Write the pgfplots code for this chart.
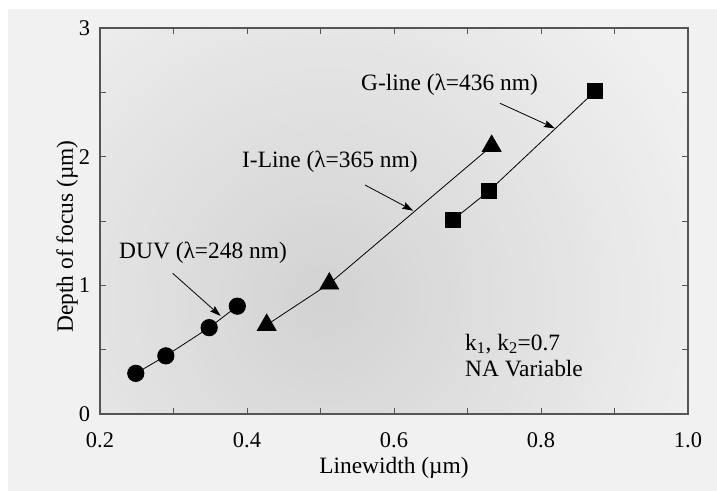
\documentclass[border=0pt]{standalone}
\usepackage{fontspec}
\setmainfont{Liberation Serif}
\usepackage{pgfplots}
\pgfplotsset{compat=1.18}
\usetikzlibrary{arrows.meta}

\definecolor{panel}{HTML}{F1F1F1}
\definecolor{shadein}{HTML}{D2D2D2}
\definecolor{frame}{HTML}{555555}

\begin{document}
\fontsize{23.5}{27}\selectfont
\begin{tikzpicture}
% page frame and background panel
\path[use as bounding box] (-100bp,-77bp) rectangle (617bp,414bp);
\fill[white] (-100bp,-77bp) rectangle (617bp,414bp);
\fill[panel] (-92bp,-77bp) rectangle (617bp,405bp);
% radial gradient inside the plot box, drawn as rings
\begin{scope}
  \clip (0,0) rectangle (588bp,386bp);
  \foreach \i in {40,39,...,1} {
    \pgfmathsetmacro\p{100*(1-\i/40)}
    \fill[shadein!\p!panel] (225bp,115bp) circle ({\i*10.5bp});
  }
\end{scope}

\begin{axis}[
    at={(0,0)}, anchor=south west,
    scale only axis,
    width=588bp, height=386bp,
    xmin=0.2, xmax=1.0,
    ymin=0, ymax=3,
    xtick={0.2,0.4,0.6,0.8,1.0},
    xticklabels={0.2,0.4,0.6,0.8,1.0},
    minor xtick={0.3,0.5,0.7,0.9},
    ytick={0,1,2,3},
    yticklabels={0,1,2,3},
    minor ytick={0.5,1.5,2.5},
    tick align=inside,
    major tick length=6bp, minor tick length=6bp,
    tick style={frame, line width=0.8bp},
    axis line style={frame, line width=1.1bp},
    ticklabel style={font=\fontsize{22.5}{26}\selectfont},
    xticklabel style={yshift=-11bp},
    yticklabel style={xshift=-2bp},
    xlabel={Linewidth (µm)},
    ylabel={Depth of focus (µm)},
    xlabel style={at={(axis description cs:0.5,-0.155)}, anchor=base},
    ylabel style={at={(axis description cs:-0.046,0.46)}, anchor=base},
    clip=false,
    every axis plot/.append style={black, line width=0.8bp, mark options={solid, fill=black}},
]

% DUV
\addplot[mark=*, mark size=8.2bp] coordinates {
    (0.2487,0.316) (0.2896,0.452) (0.3485,0.671) (0.3868,0.838)
};
% I-line
\addplot[mark=triangle*, mark size=10.8bp] coordinates {
    (0.4268,0.692) (0.5120,1.013) (0.7329,2.083)
};
% G-line
\addplot[mark=square*, mark size=7.4bp] coordinates {
    (0.6796,1.506) (0.7295,1.735) (0.8737,2.509)
};

% annotations
\node[anchor=base west, inner sep=0pt] at (axis cs:0.555,2.513) {G-line (λ=436 nm)};
\node[anchor=base west, inner sep=0pt] at (axis cs:0.3932,1.912) {I-Line (λ=365 nm)};
\node[anchor=base west, inner sep=0pt] at (axis cs:0.2259,1.212) {DUV (λ=248 nm)};
\node[anchor=base west, inner sep=0pt] at (axis cs:0.6966,0.497) {k\textsubscript{1}, k\textsubscript{2}=0.7};
\node[anchor=base west, inner sep=0pt] at (axis cs:0.6966,0.290) {NA Variable};

\draw[line width=0.8bp, -{Stealth[length=11bp, width=7bp, inset=1.5bp]}]
    (axis cs:0.7442,2.415) -- (axis cs:0.819,2.220);
\draw[line width=0.8bp, -{Stealth[length=11bp, width=7bp, inset=1.5bp]}]
    (axis cs:0.5605,1.780) -- (axis cs:0.6263,1.580);
\draw[line width=0.8bp, -{Stealth[length=11bp, width=7bp, inset=1.5bp]}]
    (axis cs:0.2989,1.0935) -- (axis cs:0.3642,0.7616);

\end{axis}
\end{tikzpicture}
\end{document}
